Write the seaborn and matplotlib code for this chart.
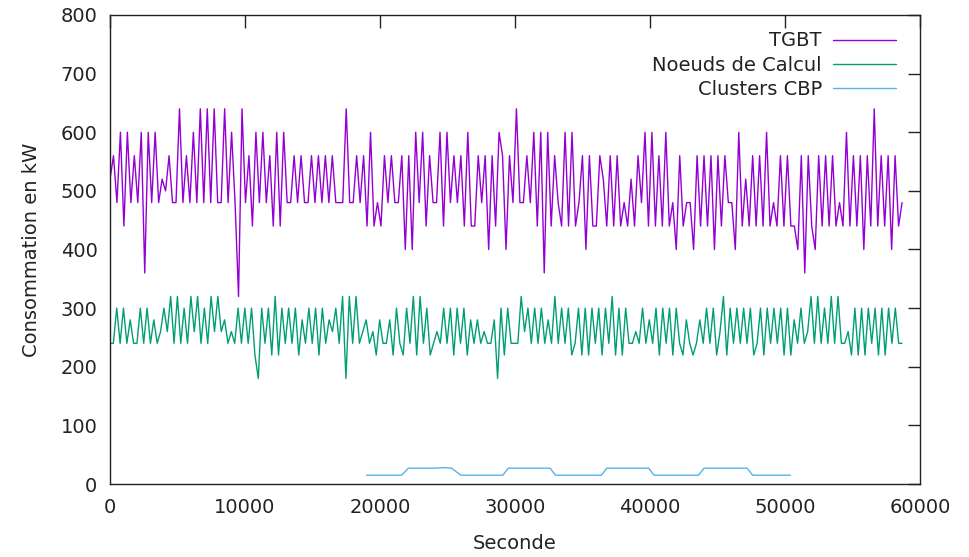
import numpy as np
import pandas as pd
import matplotlib
matplotlib.use("Agg")
import matplotlib.pyplot as plt
import seaborn as sns

# ---------------- data ----------------
t_end = 58670  # last sample time (s)

tgbt_kw = [
    # 0 - ~13800 s
    520, 560, 480, 600, 440, 600, 480, 560, 480, 600, 360, 600, 480, 600, 480, 520, 500, 560, 480, 480,
    640, 480, 560, 480, 600, 480, 640, 480, 640, 480, 640, 480, 480, 640, 480, 600, 480,
    320, 640, 480, 560, 440, 600, 480, 600, 480, 560, 440, 600, 440, 600, 480,
    # ~13800 - ~27900 s
    480, 560, 480, 560, 480, 480, 560, 480, 560, 480, 560, 480, 560, 480, 480, 480, 640, 480, 480, 560,
    480, 560, 440, 600, 440, 480, 440, 560, 480, 560, 480, 480, 560, 400, 560, 400, 600, 480, 600, 440,
    560, 480, 480, 600, 440, 600, 480, 560, 480, 560, 440, 600, 440, 440, 560,
    # ~27900 - ~42000 s
    480, 560, 400, 560, 440, 600, 560, 400, 560, 480, 640, 480, 480, 560, 480, 600, 440, 600, 360, 600,
    440, 560, 480, 440, 600, 440, 600, 440, 480, 560, 400, 560, 440, 440, 560, 520, 440, 560, 440, 560,
    440, 480, 440, 520, 440, 560, 480, 600, 440, 600, 440, 560, 440, 600, 440, 480,
    # ~42000 - 58670 s
    400, 560, 440, 480, 480, 400, 560, 440, 560, 440, 560, 400, 560, 440, 560, 480, 480, 400, 600, 440,
    520, 440, 560, 440, 560, 440, 600, 440, 480, 440, 560, 440, 560, 440, 440, 400, 560, 360, 560, 440,
    400, 560, 440, 560, 440, 560, 440, 480, 440, 600, 440, 560, 440, 560, 400, 560, 440, 640, 440, 560,
    440, 560, 400, 560, 440, 480,
]

noeuds_kw = [
    # 0 - ~9000 s
    240, 240, 300, 240, 300, 240, 280, 240, 240, 300, 240, 300, 240, 280, 240, 260, 300, 260, 320, 240,
    320, 240, 300, 240, 320, 260, 320, 240, 300, 240, 320, 260, 320, 260, 280, 240, 260, 240,
    # ~9000 - ~17300 s
    300, 240, 300, 240, 300, 220, 180, 300, 240, 300, 220, 320, 220, 300, 240, 300, 240, 300, 220, 280,
    240, 300, 240, 300, 220, 300, 240, 280, 260, 300, 240, 320,
    180, 320, 240, 320, 240,
    # ~18300 - ~27900 s
    260, 280, 240, 260, 220, 280, 240, 240, 280, 220, 300, 240, 220, 300, 240, 320, 220, 320, 240, 300,
    220, 240, 260, 240, 300, 240, 300, 220, 300, 240, 300, 220, 280, 240, 280, 240, 260, 240,
    # ~27900 - ~42000 s
    240, 280, 180, 300, 220, 300, 240, 240, 240, 320, 260, 300, 240, 300, 240, 300, 240, 280, 240, 320,
    240, 300, 240, 300, 220, 240, 300, 220, 300, 220, 300, 240, 300, 220, 300, 240, 320, 220, 300, 220,
    300, 240, 240, 260, 240, 300, 240, 280, 240, 300, 220, 300, 240, 300, 220, 300, 240,
    # ~42000 - 58670 s
    220, 280, 240, 220, 240, 280, 240, 300, 240, 300, 220, 260, 320, 220, 300, 240, 300, 240, 300, 240,
    300, 220, 240, 300, 220, 300, 240, 300, 240, 300, 220, 300, 220, 280, 240, 300, 240, 260, 320, 240,
    320, 240, 300, 240, 320, 240, 320, 240, 240, 260, 220, 300, 220, 300, 220, 300, 240, 300, 220, 300,
    220, 300, 240, 300, 240, 240,
]

cbp_t = [19000, 21600, 22100, 24000, 24800, 25300, 25700, 26000, 29100, 29500, 32600, 33000,
         36400, 36800, 39900, 40300, 43600, 44000, 47200, 47600, 50400]
cbp_kw = [15, 15, 27, 27, 28, 27, 20, 15, 15, 27, 27, 15,
          15, 27, 27, 15, 15, 27, 27, 15, 15]

series_names = ["TGBT", "Noeuds de Calcul", "Clusters CBP"]
series_colors = ["#9400D3", "#009E73", "#56B4E9"]

# ---------------- build tidy frame ----------------
frames = [
    pd.DataFrame({"Seconde": np.linspace(0, t_end, len(tgbt_kw)), "kW": tgbt_kw, "serie": series_names[0]}),
    pd.DataFrame({"Seconde": np.linspace(0, t_end, len(noeuds_kw)), "kW": noeuds_kw, "serie": series_names[1]}),
    pd.DataFrame({"Seconde": cbp_t, "kW": cbp_kw, "serie": series_names[2]}),
]
df = pd.concat(frames, ignore_index=True)

# ---------------- plot ----------------
sns.set_style("white")
plt.rcParams["font.family"] = ["DejaVu Sans"]
plt.rcParams["font.size"] = 14

fig = plt.figure(figsize=(9.7, 5.57), dpi=100)
ax = fig.add_axes([110 / 970, 1 - 484 / 557, 810 / 970, 469 / 557])

sns.lineplot(data=df, x="Seconde", y="kW", hue="serie", hue_order=series_names,
             palette=series_colors, linewidth=1.0, ax=ax, sort=False, estimator=None)

ax.set_xlim(0, 60000)
ax.set_ylim(0, 800)
ax.set_xticks(range(0, 60001, 10000))
ax.set_yticks(range(0, 801, 100))
ax.tick_params(direction="in", length=9, width=1, top=True, right=True,
               labelsize=14, colors="#222222")
ax.tick_params(axis="x", pad=10)
ax.tick_params(axis="y", pad=9)
for s in ax.spines.values():
    s.set_visible(True)
    s.set_color("#222222")
    s.set_linewidth(1.0)

ax.set_xlabel("Seconde", fontsize=14, color="#222222", labelpad=12)
ax.set_ylabel("Consommation en kW", fontsize=14, color="#222222", labelpad=14)

handles, labels = ax.get_legend_handles_labels()
leg = ax.legend(handles, labels, loc="upper right", bbox_to_anchor=(0.97, 0.965),
                frameon=False, markerfirst=False, handlelength=3.2, handletextpad=0.6,
                labelspacing=0.28, borderaxespad=0, borderpad=0, fontsize=14)
for txt in leg.get_texts():
    txt.set_color("#222222")

fig.savefig("out.png", dpi=100)
